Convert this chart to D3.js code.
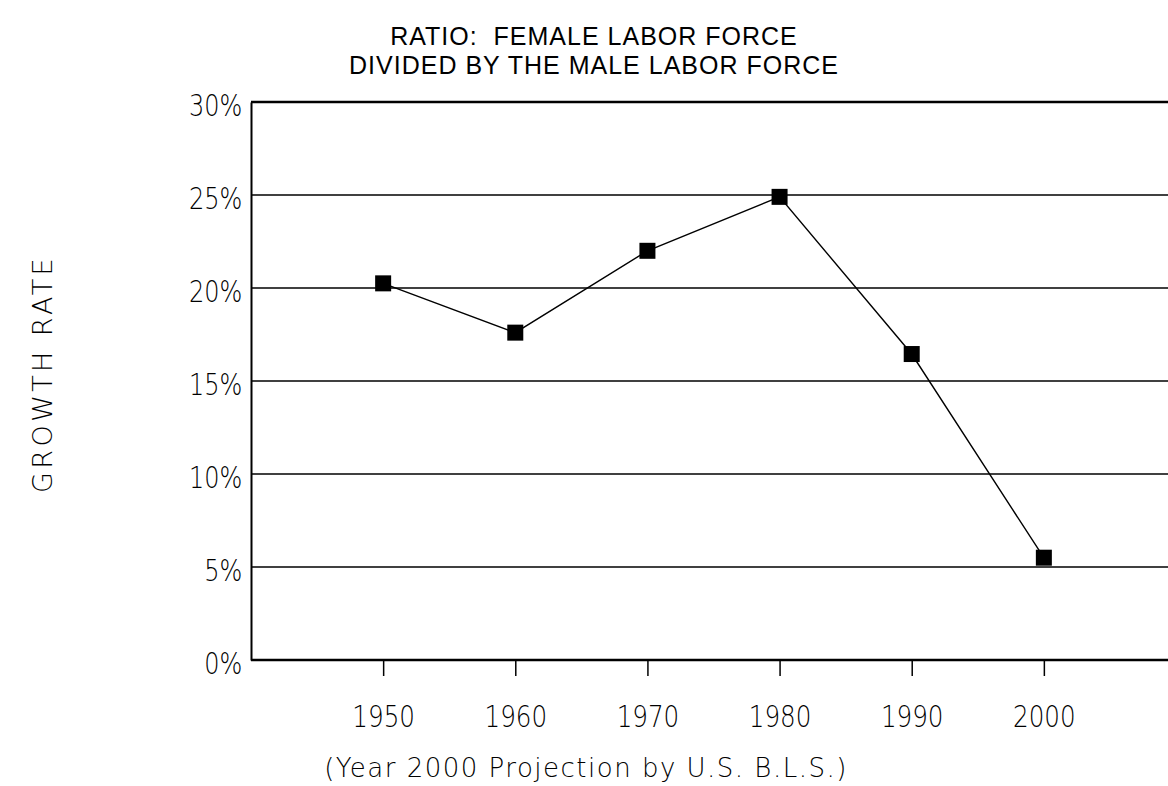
<!DOCTYPE html>
<html lang="en">
<head>
<meta charset="UTF-8">
<title>Female / Male labor force ratio</title>
<script src="https://d3js.org/d3.v7.min.js"></script>
<style>
  body { margin: 0; background: #fff; }
  svg { display: block; }
  .thin { font-family: "DejaVu Sans", sans-serif; font-weight: 200; }
  .title { white-space: pre; }
</style>
</head>
<body>
<div class="container"></div>
<script>
  // data
  const years = [1950, 1960, 1970, 1980, 1990, 2000];
  const growthRate = [20.25, 17.6, 22.0, 24.9, 16.45, 5.5];
  const yTicks = [0, 5, 10, 15, 20, 25, 30];
  const titleLines = ["RATIO:  FEMALE LABOR FORCE", "DIVIDED BY THE MALE LABOR FORCE"];

  const W = 1168, H = 786;
  const plotLeft = 251, plotTop = 102, plotBottom = 660, plotRight = 1176;

  const svg = d3.select(".container")
    .append("svg")
    .attr("width", W)
    .attr("height", H);

  const x = d3.scaleLinear().domain([1940, 2010]).range([plotLeft, plotRight]);
  const y = d3.scaleLinear().domain([0, 30]).range([plotBottom, plotTop]);

  // gridlines
  svg.append("g")
    .selectAll("line")
    .data(yTicks.slice(1))
    .join("line")
    .attr("x1", plotLeft).attr("x2", W)
    .attr("y1", d => y(d)).attr("y2", d => y(d))
    .attr("stroke", "#000")
    .attr("stroke-width", d => d === 30 ? 2.4 : 1.5);

  // y axis (narrow, thin tick labels)
  const yAxis = svg.append("g")
    .attr("transform", `translate(${plotLeft},0)`)
    .call(d3.axisLeft(y).tickValues(yTicks).tickSize(0).tickFormat(d => d + "%"));
  yAxis.select(".domain").attr("stroke-width", 2);
  yAxis.selectAll("text")
    .attr("class", "thin")
    .attr("font-size", 30)
    .attr("fill", "#000")
    .attr("x", -11)
    .attr("dy", 13)
    .attr("transform", "scale(0.8,1)");

  // x axis
  const xAxis = svg.append("g")
    .attr("transform", `translate(0,${plotBottom})`)
    .call(d3.axisBottom(x).tickValues(years).tickSize(16).tickPadding(30).tickFormat(d3.format("d")));
  xAxis.select(".domain").attr("stroke-width", 2.4).attr("d", `M${plotLeft},0H${W}`);
  xAxis.selectAll(".tick line").attr("stroke-width", 1.5);
  xAxis.selectAll("text")
    .attr("class", "thin")
    .attr("font-size", 30)
    .attr("fill", "#000")
    .attr("transform", "scale(0.82,1)");

  // series line + markers
  const pts = years.map((yr, i) => [yr, growthRate[i]]);
  svg.append("path")
    .datum(pts)
    .attr("fill", "none")
    .attr("stroke", "#000")
    .attr("stroke-width", 1.4)
    .attr("d", d3.line().x(d => x(d[0])).y(d => y(d[1])));

  svg.append("g")
    .selectAll("rect")
    .data(pts)
    .join("rect")
    .attr("x", d => x(d[0]) - 8)
    .attr("y", d => y(d[1]) - 8)
    .attr("width", 16)
    .attr("height", 16)
    .attr("fill", "#000");

  // titles
  svg.append("g")
    .selectAll("text")
    .data(titleLines)
    .join("text")
    .attr("class", "title")
    .attr("x", 594)
    .attr("y", (d, i) => 45 + i * 29)
    .attr("text-anchor", "middle")
    .attr("font-family", "Liberation Sans, Arial, sans-serif")
    .attr("font-size", 25)
    .attr("letter-spacing", 1)
    .text(d => d);

  svg.append("text")
    .attr("class", "thin")
    .attr("transform", "translate(52,374) rotate(-90)")
    .attr("text-anchor", "middle")
    .attr("font-size", 27)
    .attr("letter-spacing", 3.4)
    .text("GROWTH RATE");

  svg.append("text")
    .attr("class", "thin")
    .attr("x", 586)
    .attr("y", 777)
    .attr("text-anchor", "middle")
    .attr("font-size", 26)
    .attr("letter-spacing", 1.5)
    .text("(Year 2000 Projection by U.S. B.L.S.)");
</script>
</body>
</html>
